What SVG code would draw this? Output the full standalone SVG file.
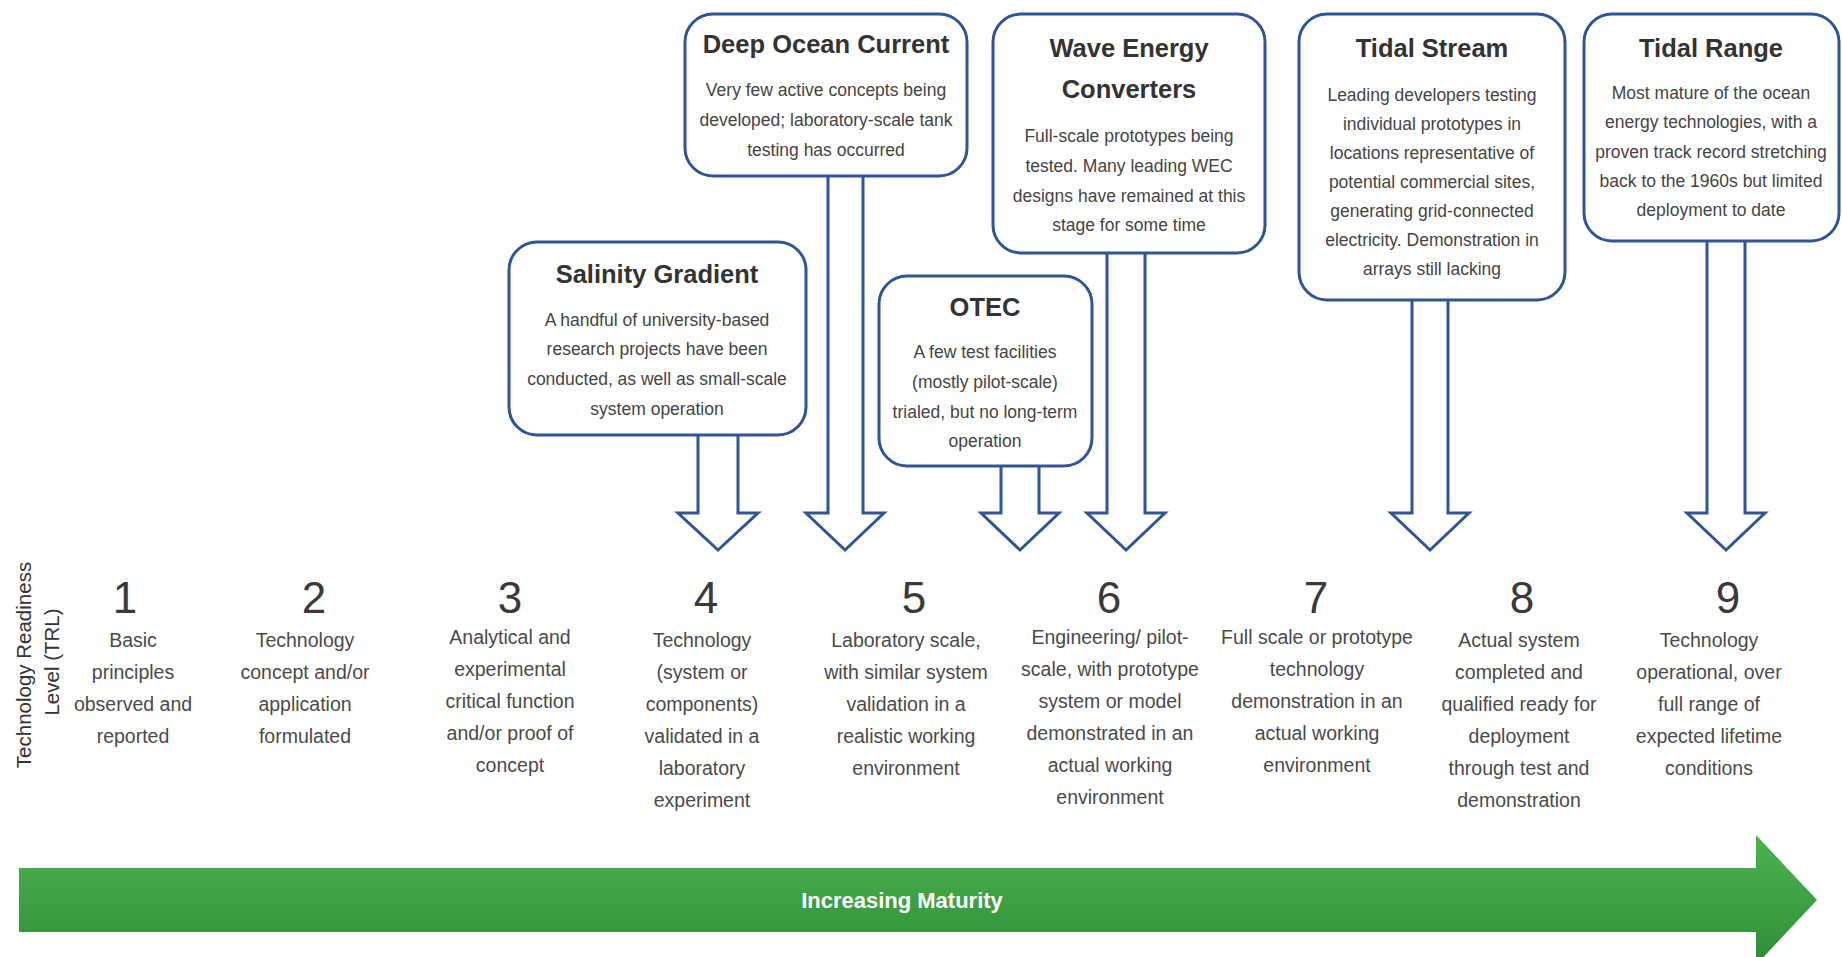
<svg xmlns="http://www.w3.org/2000/svg" width="1842" height="957" viewBox="0 0 1842 957">
<defs>
<linearGradient id="g" x1="0" y1="0" x2="0" y2="1">
<stop offset="0" stop-color="#4cb351"/>
<stop offset="1" stop-color="#2f8d37"/>
</linearGradient>
<style>
.box{fill:#fff;stroke:#2f5597;stroke-width:3}
.arr{fill:#fff;stroke:#2f5597;stroke-width:3;stroke-linejoin:miter}
.t{font-family:"Liberation Sans",Arial,sans-serif;font-weight:bold;font-size:25.5px;fill:#333;text-anchor:middle}
.b{font-family:"Liberation Sans",Arial,sans-serif;font-size:17.5px;fill:#444;text-anchor:middle}
.n{font-family:"Liberation Sans",Arial,sans-serif;font-size:44px;fill:#3a3a3a;text-anchor:middle}
.d{font-family:"Liberation Sans",Arial,sans-serif;font-size:19.5px;fill:#4a4a4a;text-anchor:middle}
.v{font-family:"Liberation Sans",Arial,sans-serif;font-size:20.5px;fill:#333;text-anchor:middle}
.m{font-family:"Liberation Sans",Arial,sans-serif;font-weight:bold;font-size:22px;fill:#fff;text-anchor:middle}
</style>
</defs>
<rect width="1842" height="957" fill="#fff"/>

<g id="connectors">
<polygon class="arr" points="828,170 828,513 806,513 845,550 884,513 863,513 863,170"/>
<polygon class="arr" points="698,430 698,513 678,513 718,550 758,513 738,513 738,430"/>
<polygon class="arr" points="1001,460 1001,513 981,513 1020,550 1059,513 1039,513 1039,460"/>
<polygon class="arr" points="1107,248 1107,513 1087,513 1126,550 1165,513 1145,513 1145,248"/>
<polygon class="arr" points="1412,295 1412,513 1391,513 1430,550 1469,513 1448,513 1448,295"/>
<polygon class="arr" points="1707,236 1707,513 1687,513 1726,550 1765,513 1745,513 1745,236"/>
</g>

<g id="deep-ocean-current">
<rect class="box" x="685" y="14" width="282" height="162" rx="28"/>
<text class="t" x="826" y="53">Deep Ocean Current</text>
<text class="b" x="826" y="96">Very few active concepts being</text>
<text class="b" x="826" y="126">developed; laboratory-scale tank</text>
<text class="b" x="826" y="156">testing has occurred</text>
</g>

<g id="salinity-gradient">
<rect class="box" x="509" y="242" width="297" height="193" rx="28"/>
<text class="t" x="657" y="283">Salinity Gradient</text>
<text class="b" x="657" y="326">A handful of university-based</text>
<text class="b" x="657" y="355">research projects have been</text>
<text class="b" x="657" y="385">conducted, as well as small-scale</text>
<text class="b" x="657" y="415">system operation</text>
</g>

<g id="otec">
<rect class="box" x="879" y="276" width="213" height="190" rx="28"/>
<text class="t" x="985" y="316">OTEC</text>
<text class="b" x="985" y="358">A few test facilities</text>
<text class="b" x="985" y="388">(mostly pilot-scale)</text>
<text class="b" x="985" y="418">trialed, but no long-term</text>
<text class="b" x="985" y="447">operation</text>
</g>

<g id="wave-energy-converters">
<rect class="box" x="993" y="14" width="272" height="239" rx="28"/>
<text class="t" x="1129" y="57">Wave Energy</text>
<text class="t" x="1129" y="98">Converters</text>
<text class="b" x="1129" y="142">Full-scale prototypes being</text>
<text class="b" x="1129" y="172">tested. Many leading WEC</text>
<text class="b" x="1129" y="202">designs have remained at this</text>
<text class="b" x="1129" y="231">stage for some time</text>
</g>

<g id="tidal-stream">
<rect class="box" x="1299" y="14" width="266" height="286" rx="28"/>
<text class="t" x="1432" y="57">Tidal Stream</text>
<text class="b" x="1432" y="101">Leading developers testing</text>
<text class="b" x="1432" y="130">individual prototypes in</text>
<text class="b" x="1432" y="159">locations representative of</text>
<text class="b" x="1432" y="188">potential commercial sites,</text>
<text class="b" x="1432" y="217">generating grid-connected</text>
<text class="b" x="1432" y="246">electricity. Demonstration in</text>
<text class="b" x="1432" y="275">arrays still lacking</text>
</g>

<g id="tidal-range">
<rect class="box" x="1584" y="14" width="255" height="227" rx="28"/>
<text class="t" x="1711" y="57">Tidal Range</text>
<text class="b" x="1711" y="99">Most mature of the ocean</text>
<text class="b" x="1711" y="128">energy technologies, with a</text>
<text class="b" x="1711" y="158">proven track record stretching</text>
<text class="b" x="1711" y="187">back to the 1960s but limited</text>
<text class="b" x="1711" y="216">deployment to date</text>
</g>

<g id="trl-label">
<text class="v" transform="translate(31,665) rotate(-90)">Technology Readiness</text>
<text class="v" transform="translate(59,662) rotate(-90)">Level (TRL)</text>
</g>

<g id="trl-1">
<text class="n" x="125" y="613">1</text>
<text class="d" x="133" y="647">Basic</text>
<text class="d" x="133" y="679">principles</text>
<text class="d" x="133" y="711">observed and</text>
<text class="d" x="133" y="743">reported</text>
</g>
<g id="trl-2">
<text class="n" x="314" y="613">2</text>
<text class="d" x="305" y="647">Technology</text>
<text class="d" x="305" y="679">concept and/or</text>
<text class="d" x="305" y="711">application</text>
<text class="d" x="305" y="743">formulated</text>
</g>
<g id="trl-3">
<text class="n" x="510" y="613">3</text>
<text class="d" x="510" y="644">Analytical and</text>
<text class="d" x="510" y="676">experimental</text>
<text class="d" x="510" y="708">critical function</text>
<text class="d" x="510" y="740">and/or proof of</text>
<text class="d" x="510" y="772">concept</text>
</g>
<g id="trl-4">
<text class="n" x="706" y="613">4</text>
<text class="d" x="702" y="647">Technology</text>
<text class="d" x="702" y="679">(system or</text>
<text class="d" x="702" y="711">components)</text>
<text class="d" x="702" y="743">validated in a</text>
<text class="d" x="702" y="775">laboratory</text>
<text class="d" x="702" y="807">experiment</text>
</g>
<g id="trl-5">
<text class="n" x="914" y="613">5</text>
<text class="d" x="906" y="647">Laboratory scale,</text>
<text class="d" x="906" y="679">with similar system</text>
<text class="d" x="906" y="711">validation in a</text>
<text class="d" x="906" y="743">realistic working</text>
<text class="d" x="906" y="775">environment</text>
</g>
<g id="trl-6">
<text class="n" x="1109" y="613">6</text>
<text class="d" x="1110" y="644">Engineering/ pilot-</text>
<text class="d" x="1110" y="676">scale, with prototype</text>
<text class="d" x="1110" y="708">system or model</text>
<text class="d" x="1110" y="740">demonstrated in an</text>
<text class="d" x="1110" y="772">actual working</text>
<text class="d" x="1110" y="804">environment</text>
</g>
<g id="trl-7">
<text class="n" x="1316" y="613">7</text>
<text class="d" x="1317" y="644">Full scale or prototype</text>
<text class="d" x="1317" y="676">technology</text>
<text class="d" x="1317" y="708">demonstration in an</text>
<text class="d" x="1317" y="740">actual working</text>
<text class="d" x="1317" y="772">environment</text>
</g>
<g id="trl-8">
<text class="n" x="1522" y="613">8</text>
<text class="d" x="1519" y="647">Actual system</text>
<text class="d" x="1519" y="679">completed and</text>
<text class="d" x="1519" y="711">qualified ready for</text>
<text class="d" x="1519" y="743">deployment</text>
<text class="d" x="1519" y="775">through test and</text>
<text class="d" x="1519" y="807">demonstration</text>
</g>
<g id="trl-9">
<text class="n" x="1728" y="613">9</text>
<text class="d" x="1709" y="647">Technology</text>
<text class="d" x="1709" y="679">operational, over</text>
<text class="d" x="1709" y="711">full range of</text>
<text class="d" x="1709" y="743">expected lifetime</text>
<text class="d" x="1709" y="775">conditions</text>
</g>

<g id="maturity-arrow">
<path d="M19,868 L1756,868 L1756,835 L1817,900 L1756,965 L1756,932 L19,932 Z" fill="url(#g)"/>
<text class="m" x="902" y="908">Increasing Maturity</text>
</g>
</svg>
